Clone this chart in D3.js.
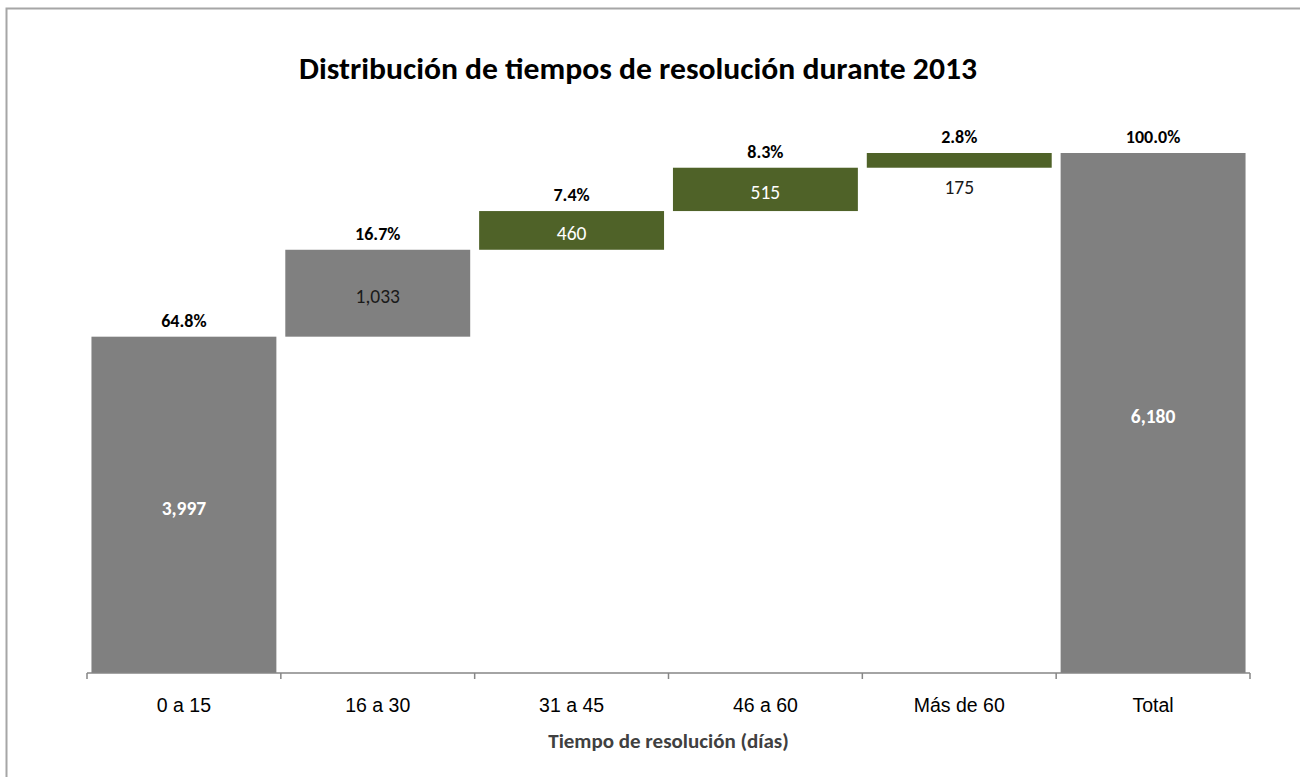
<!DOCTYPE html>
<html>
<head>
<meta charset="utf-8">
<script src="https://cdn.jsdelivr.net/npm/d3@7"></script>
<style>
  body { margin: 0; background: #fff; }
  svg { display: block; font-family: Carlito, Lato, 'Open Sans', sans-serif; }
</style>
</head>
<body>
<div id="chart"></div>
<script>
// Chart data
const categories = ['0 a 15', '16 a 30', '31 a 45', '46 a 60', 'Más de 60', 'Total'];
const values = [3997, 1033, 460, 515, 175, 6180];
const percents = ['64.8%', '16.7%', '7.4%', '8.3%', '2.8%', '100.0%'];
const isTotal = [false, false, false, false, false, true];

const width = 1300;
const height = 777;
const margin = { top: 153, right: 50, bottom: 104, left: 87 };

const GRAY = '#808080';
const GREEN = '#4F6228';

// build waterfall rows
let running = 0;
const rows = categories.map((c, i) => {
  const start = isTotal[i] ? 0 : running;
  const end = isTotal[i] ? values[i] : running + values[i];
  if (!isTotal[i]) running = end;
  return { cat: c, value: values[i], pct: percents[i], start, end, index: i };
});

// colour per bar: first two and total gray, the rest green
const fill = d => (d.index < 2 || isTotal[d.index]) ? GRAY : GREEN;

const svg = d3.select('#chart').append('svg')
  .attr('width', width)
  .attr('height', height);

// outer frame
svg.append('rect')
  .attr('x', 6.5).attr('y', 8.5)
  .attr('width', width).attr('height', height)
  .attr('fill', 'none')
  .attr('stroke', '#a6a6a6')
  .attr('stroke-width', 2);

svg.append('text')
  .attr('x', 638)
  .attr('y', 79)
  .attr('text-anchor', 'middle')
  .attr('font-weight', 'bold')
  .attr('font-size', 31)
  .attr('textLength', 678)
  .attr('lengthAdjust', 'spacingAndGlyphs')
  .attr('fill', '#000')
  .text('Distribución de tiempos de resolución durante 2013');

const x = d3.scaleBand()
  .domain(categories)
  .range([margin.left, width - margin.right])
  .paddingInner(0.046)
  .paddingOuter(0.023);

const y = d3.scaleLinear()
  .domain([0, d3.max(values)])
  .range([height - margin.bottom, margin.top]);

// bars
svg.append('g')
  .selectAll('rect')
  .data(rows)
  .join('rect')
  .attr('x', d => x(d.cat))
  .attr('width', x.bandwidth())
  .attr('y', d => y(d.end))
  .attr('height', d => y(d.start) - y(d.end))
  .attr('fill', fill);

// x axis
const axisY = y(0);
const gAxis = svg.append('g')
  .attr('transform', `translate(0,${axisY})`)
  .call(d3.axisBottom(x).tickSize(0).tickPadding(25));
gAxis.select('.domain').remove();
gAxis.selectAll('text')
  .attr('font-family', null)
  .style('font-size', '19.5px')
  .attr('fill', '#000');

const [r0, r1] = x.range();
svg.append('line')
  .attr('x1', r0).attr('x2', r1)
  .attr('y1', axisY).attr('y2', axisY)
  .attr('stroke', '#868686')
  .attr('stroke-width', 1.5);

const boundaries = categories.map(c => x(c) - x.step() * x.paddingInner() / 2).concat([r1]);
boundaries[0] = r0;
svg.append('g')
  .selectAll('line')
  .data(boundaries)
  .join('line')
  .attr('x1', d => d).attr('x2', d => d)
  .attr('y1', axisY).attr('y2', axisY + 6)
  .attr('stroke', '#868686')
  .attr('stroke-width', 1.5);

svg.append('text')
  .attr('x', (r0 + r1) / 2)
  .attr('y', 748)
  .attr('text-anchor', 'middle')
  .attr('font-weight', 'bold')
  .attr('font-size', 21)
  .attr('fill', '#404040')
  .text('Tiempo de resolución (días)');

// percentage labels above bars
svg.append('g')
  .selectAll('text')
  .data(rows)
  .join('text')
  .attr('x', d => x(d.cat) + x.bandwidth() / 2)
  .attr('y', d => y(d.end) - 10)
  .attr('text-anchor', 'middle')
  .attr('font-weight', 'bold')
  .attr('font-size', 18)
  .attr('fill', '#000')
  .text(d => d.pct);

// value labels
const fmt = d3.format(',');
svg.append('g')
  .selectAll('text')
  .data(rows)
  .join('text')
  .attr('x', d => x(d.cat) + x.bandwidth() / 2)
  .attr('y', d => {
    const h = y(d.start) - y(d.end);
    if (h < 25) return y(d.start) + 19;
    return (y(d.start) + y(d.end)) / 2 + 3;
  })
  .attr('dy', '0.36em')
  .attr('text-anchor', 'middle')
  .attr('font-size', 19.5)
  .attr('font-weight', d => (d.index === 0 || isTotal[d.index]) ? 'bold' : 'normal')
  .attr('fill', d => {
    if (y(d.start) - y(d.end) < 25) return '#1a1a1a';
    return d.index === 1 ? '#1a1a1a' : '#fff';
  })
  .text(d => fmt(d.value));
</script>
</body>
</html>
